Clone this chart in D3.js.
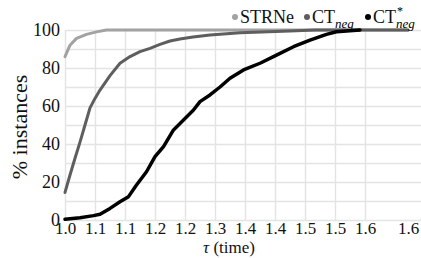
<!DOCTYPE html>
<html>
<head>
<meta charset="utf-8">
<script src="https://cdn.jsdelivr.net/npm/d3@7"></script>
<style>
  body { margin: 0; background: #fff; }
</style>
</head>
<body>
<script>
// data
var strneTau = [1.0, 1.01, 1.023, 1.043, 1.063, 1.083, 1.686];
var strneVal = [86, 92, 95.6, 97.7, 99, 100, 100];

var ctNegTau = [1.0, 1.01, 1.02, 1.03, 1.04, 1.05, 1.06, 1.07, 1.09, 1.11, 1.13, 1.15, 1.17, 1.19, 1.21, 1.23, 1.256, 1.29, 1.35, 1.45, 1.5, 1.686];
var ctNegVal = [14.5, 23.7, 32.5, 41, 50, 59, 64, 68.4, 76, 82.5, 86, 88.6, 90.3, 92.4, 94.2, 95.3, 96.3, 97.4, 98.5, 99.5, 100, 100];

var ctStarTau = [1.0, 1.03, 1.057, 1.07, 1.09, 1.11, 1.127, 1.143, 1.163, 1.18, 1.197, 1.217, 1.237, 1.257, 1.27, 1.29, 1.31, 1.33, 1.357, 1.39, 1.423, 1.457, 1.49, 1.523, 1.543, 1.59];
var ctStarVal = [0.4, 1.2, 2.3, 3, 6.1, 9.6, 12.3, 18.4, 25.4, 33.3, 38.6, 47.4, 52.6, 57.9, 62.3, 65.8, 70, 74.6, 79, 82.5, 86.8, 91.2, 94.7, 97.7, 99.1, 100];

var xGridValues = [1.0, 1.06, 1.12, 1.18, 1.24, 1.30, 1.36, 1.42, 1.48, 1.54, 1.60];
var xTickValues = [1.0, 1.06, 1.12, 1.18, 1.24, 1.30, 1.36, 1.42, 1.48, 1.54, 1.60, 1.686];
var xTickLabels = ["1.0", "1.1", "1.1", "1.2", "1.2", "1.3", "1.4", "1.4", "1.5", "1.5", "1.6", "1.6"];
var yGridValues = [0, 10, 20, 30, 40, 50, 60, 70, 80, 90, 100];
var yTickValues = [0, 20, 40, 60, 80, 100];

var serif = "Liberation Serif";

var svgWidth = 421;
var svgHeight = 258;

var margin = { top: 30, right: 0, bottom: 38, left: 65 };
var width = svgWidth - margin.left - margin.right;
var height = svgHeight - margin.top - margin.bottom;

var svg = d3.select("body")
    .append("svg")
    .attr("width", svgWidth)
    .attr("height", svgHeight);

var chartGroup = svg.append("g")
    .attr("transform", `translate(${margin.left}, ${margin.top})`);

var xScale = d3.scaleLinear()
    .domain([1.0, 1.712])
    .range([0, width]);

var yScale = d3.scaleLinear()
    .domain([0, 100])
    .range([height, 0]);

// grid
chartGroup.append("g")
    .attr("class", "grid")
    .call(d3.axisBottom(xScale).tickValues(xGridValues).tickSize(-height).tickFormat(""))
    .attr("transform", `translate(0, ${height})`);

chartGroup.append("g")
    .attr("class", "grid")
    .call(d3.axisLeft(yScale).tickValues(yGridValues).tickSize(-width).tickFormat(""));

chartGroup.selectAll(".grid .domain").remove();
chartGroup.selectAll(".grid line")
    .attr("stroke", "#e4e4e4")
    .attr("stroke-width", 1.5);

// tick labels
var bottomAxis = d3.axisBottom(xScale)
    .tickValues(xTickValues)
    .tickSize(0)
    .tickPadding(2)
    .tickFormat(function(d, i) { return xTickLabels[i]; });

var leftAxis = d3.axisLeft(yScale)
    .tickValues(yTickValues)
    .tickSize(0)
    .tickPadding(5);

var xAxisG = chartGroup.append("g")
    .attr("transform", `translate(0, ${height})`)
    .call(bottomAxis)
    .attr("font-family", serif)
    .attr("font-size", 17);

var yAxisG = chartGroup.append("g")
    .call(leftAxis)
    .attr("font-family", serif)
    .attr("font-size", 18);

xAxisG.select(".domain").remove();
yAxisG.select(".domain").remove();

svg.selectAll(".tick text")
    .attr("fill", "#111");

// lines
var line = d3.line()
    .x(d => xScale(d[0]))
    .y(d => yScale(d[1]));

var series = [
    { tau: strneTau, val: strneVal, color: "#a2a2a2", w: 3 },
    { tau: ctNegTau, val: ctNegVal, color: "#5e5e5e", w: 3 },
    { tau: ctStarTau, val: ctStarVal, color: "#000000", w: 3.5 }
];

series.forEach(function(s) {
    chartGroup.append("path")
        .datum(d3.zip(s.tau, s.val))
        .attr("d", line)
        .attr("fill", "none")
        .attr("stroke", s.color)
        .attr("stroke-width", s.w)
        .attr("stroke-linejoin", "round")
        .attr("stroke-linecap", "round");
});

// axis titles
svg.append("text")
    .attr("transform", "translate(27, 127) rotate(-90)")
    .attr("text-anchor", "middle")
    .attr("font-family", serif)
    .attr("font-size", "22px")
    .attr("fill", "#111")
    .text("% instances");

var xTitle = svg.append("text")
    .attr("x", 229)
    .attr("y", 253)
    .attr("text-anchor", "middle")
    .attr("font-family", serif)
    .attr("font-size", "17px")
    .attr("fill", "#111");
xTitle.append("tspan").attr("font-style", "italic").text("τ");
xTitle.append("tspan").text(" (time)");

// legend
var legendItems = [
    { x: 235, color: "#a2a2a2", main: "STRNe", sup: "", sub: "" },
    { x: 307, color: "#5e5e5e", main: "CT", sup: "", sub: "neg" },
    { x: 368, color: "#000000", main: "CT", sup: "*", sub: "neg" }
];

legendItems.forEach(function(d) {
    svg.append("circle")
        .attr("cx", d.x)
        .attr("cy", 17)
        .attr("r", 3)
        .attr("fill", d.color);
    var t = svg.append("text")
        .attr("x", d.x + 5)
        .attr("y", 23)
        .attr("font-family", serif)
        .attr("font-size", "18px")
        .attr("fill", "#111")
        .text(d.main);
    var w = t.node().getComputedTextLength();
    if (d.sup) {
        svg.append("text")
            .attr("x", d.x + 5 + w + 1)
            .attr("y", 15)
            .attr("font-family", serif)
            .attr("font-size", "12px")
            .text(d.sup);
    }
    if (d.sub) {
        svg.append("text")
            .attr("x", d.x + 5 + w)
            .attr("y", 28)
            .attr("font-family", serif)
            .attr("font-size", "13px")
            .attr("font-style", "italic")
            .text(d.sub);
    }
});
</script>
</body>
</html>
